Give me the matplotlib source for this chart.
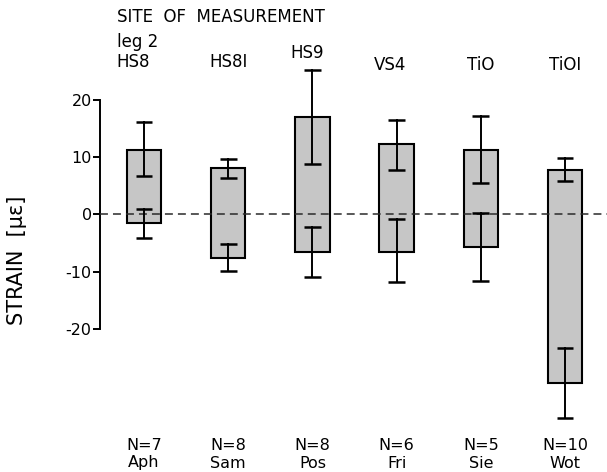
import matplotlib
matplotlib.use("Agg")
import matplotlib.pyplot as plt
import matplotlib.transforms as mtransforms

# ---- data ----
site_labels = ["HS8", "HS8I", "HS9", "VS4", "TiO", "TiOI"]
subjects = ["Aph", "Sam", "Pos", "Fri", "Sie", "Wot"]
n_values = ["N=7", "N=8", "N=8", "N=6", "N=5", "N=10"]

top_vals = [11.3, 8.0, 16.9, 12.2, 11.3, 7.8]
top_hi = [16.1, 9.6, 25.1, 16.5, 17.2, 9.8]
top_lo = [6.7, 6.3, 8.8, 7.8, 5.4, 5.8]
bot_vals = [-1.6, -7.6, -6.5, -6.5, -5.7, -29.4]
bot_hi = [1.0, -5.1, -2.2, -0.8, 0.2, -23.4]
bot_lo = [-4.2, -9.9, -10.9, -11.9, -11.6, -35.5]

yticks = [20, 10, 0, -10, -20]

W, H = 607, 472
fig = plt.figure(figsize=(W / 100, H / 100), dpi=100)

# axes placement in pixels
y0_px, ppu = 214.3, 5.73
ylim = (-38, 28)
top_px = y0_px - ppu * ylim[1]
bot_px = y0_px - ppu * ylim[0]
left_px = 100
ax = fig.add_axes([left_px / W, 1 - bot_px / H, 1 - left_px / W, (bot_px - top_px) / H])
ax.set_ylim(*ylim)
ax.set_xlim(-0.5226, 5.499)
ax.patch.set_visible(False)

xs = list(range(len(subjects)))
heights = [t - b for t, b in zip(top_vals, bot_vals)]
ax.bar(xs, heights, bottom=bot_vals, width=0.41, color="#c6c6c6",
       edgecolor="black", linewidth=1.5, zorder=2)

ax.axhline(0, color="#2a2a2a", linewidth=1.1, dashes=(5.2, 3.3), zorder=3)

def whisker(x, lo, hi):
    ax.plot([x, x], [lo, hi], color="black", linewidth=1.4, zorder=4)
    for yy in (hi, lo):
        ax.plot([x - 0.1, x + 0.1], [yy, yy], color="black", linewidth=1.8,
                zorder=4, solid_capstyle="butt")

for x, h, l in zip(xs, top_hi, top_lo):
    whisker(x, l, h)
for x, h, l in zip(xs, bot_hi, bot_lo):
    whisker(x, l, h)

for s in ["top", "right", "bottom"]:
    ax.spines[s].set_visible(False)
ax.spines["left"].set_bounds(-20, 20)
ax.spines["left"].set_linewidth(1.4)
ax.set_xticks([])
ax.set_yticks(yticks)
ax.set_yticklabels([str(t) for t in yticks], fontsize=11.5)
ax.tick_params(axis="y", direction="out", length=5, width=1.4, pad=1)

fig.text(17 / W, 1 - 260 / H, "STRAIN  [\u00b5\u03b5]", fontsize=15, rotation=90,
         ha="center", va="center")

# top titles
fig.text(117 / W, 1 - 17 / H, "SITE  OF  MEASUREMENT", fontsize=12, va="center", ha="left")
fig.text(117 / W, 1 - 42 / H, "leg 2", fontsize=12, va="center", ha="left")
trans = mtransforms.blended_transform_factory(ax.transData, fig.transFigure)
site_y = [62, 62, 53, 65, 65, 65]
site_dx = [-0.13, 0.0, -0.06, -0.08, 0.0, 0.0]
for x, lab, yy, dx in zip(xs, site_labels, site_y, site_dx):
    ax.text(x + dx, 1 - yy / H, lab, transform=trans, fontsize=12,
            ha="center", va="center")

for x, n, s in zip(xs, n_values, subjects):
    ax.text(x, 1 - 445 / H, n, transform=trans, fontsize=11.5, ha="center", va="center")
    ax.text(x, 1 - 463 / H, s, transform=trans, fontsize=11.5, ha="center", va="center")

fig.savefig("out.png", dpi=100)
